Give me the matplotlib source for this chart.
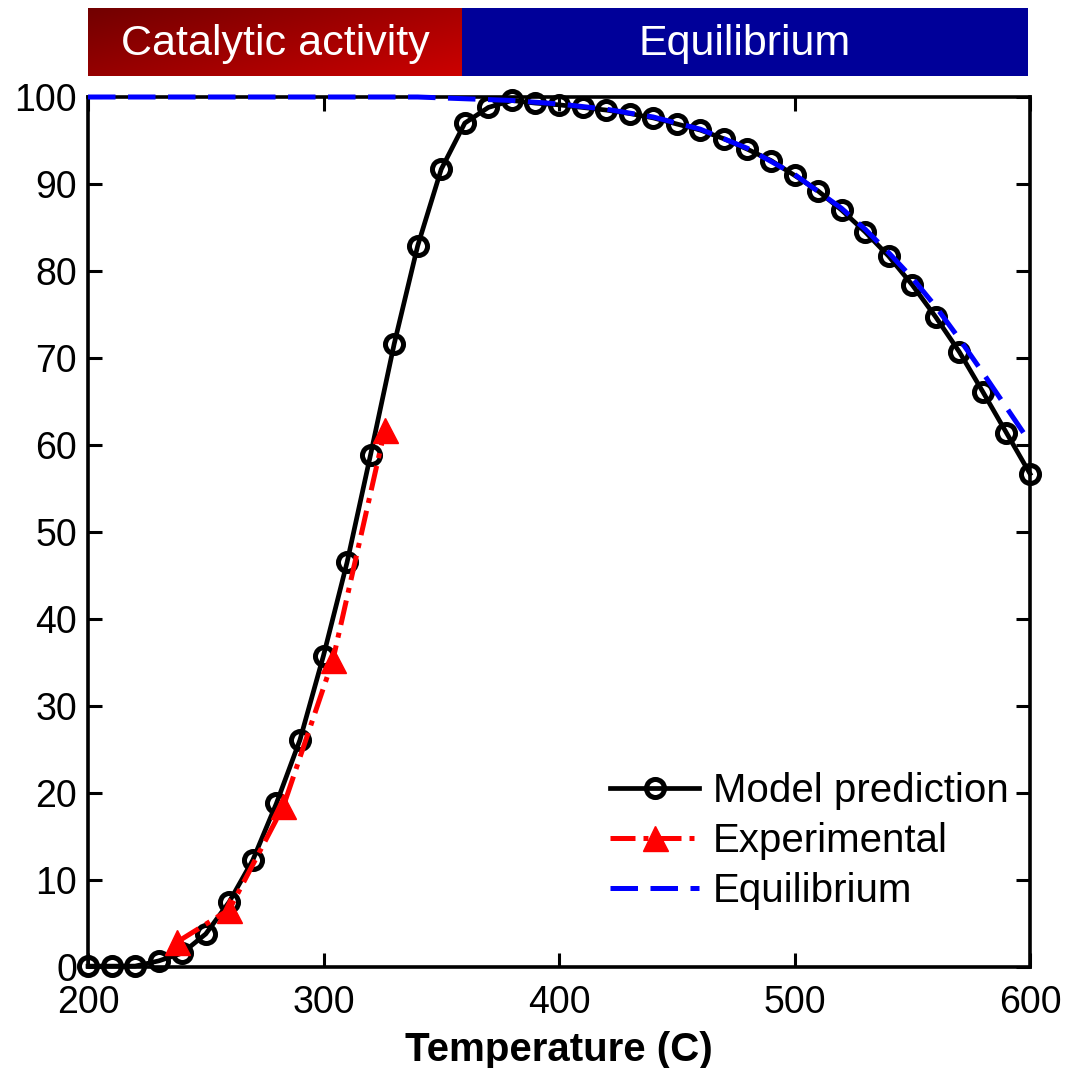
import matplotlib.pyplot as plt
import numpy as np
from matplotlib.colors import LinearSegmentedColormap

plt.rcParams['font.family'] = ['Liberation Sans', 'DejaVu Sans']

# 数据
temp_model = [200, 210, 220, 230, 240, 250, 260, 270, 280, 290,
              300, 310, 320, 330, 340, 350, 360, 370, 380, 390,
              400, 410, 420, 430, 440, 450, 460, 470, 480, 490,
              500, 510, 520, 530, 540, 550, 560, 570, 580, 590, 600]
conv_model = [0.1, 0.1, 0.1, 0.7, 1.6, 3.8, 7.5, 12.3, 18.8, 26.1,
              35.8, 46.5, 58.9, 71.6, 82.9, 91.7, 97.0, 98.8, 99.6, 99.3,
              99.1, 98.8, 98.5, 98.1, 97.6, 96.9, 96.2, 95.2, 94.0, 92.7,
              91.0, 89.2, 87.0, 84.5, 81.7, 78.4, 74.7, 70.7, 66.1, 61.4, 56.7]

temp_exp = [238, 260, 283, 304, 326]
conv_exp = [2.9, 6.6, 18.5, 35.3, 61.7]

temp_eq = [200, 250, 300, 340, 350, 360, 370, 380, 390, 400,
           420, 440, 460, 480, 500, 520, 530, 540, 550, 560,
           570, 580, 590, 600]
conv_eq = [100.0, 100.0, 100.0, 100.0, 99.9, 99.8, 99.7, 99.6, 99.4, 99.2,
           98.6, 97.7, 96.3, 94.1, 91.1, 87.2, 84.8, 82.1, 79.2, 75.9,
           72.2, 68.3, 64.3, 60.3]

banner_labels = ['Catalytic activity', 'Equilibrium']

fig = plt.figure(figsize=(10.66, 10.68), dpi=100)
ax = fig.add_axes([88 / 1066, 1 - 967 / 1068, 942 / 1066, 870 / 1068])

ax.plot(temp_model, conv_model, color='black', lw=3.4, marker='o',
        markersize=13, markerfacecolor='none', markeredgewidth=3.6,
        markeredgecolor='black', label='Model prediction', zorder=3,
        clip_on=False)
ax.plot(temp_exp, conv_exp, color='#ff0000', linestyle=(0, (5, 1.6, 1, 1.6)),
        lw=3.6, marker='^', markersize=18, markerfacecolor='#ff0000',
        markeredgecolor='#ff0000', label='Experimental', zorder=4)
ax.plot(temp_eq, conv_eq, color='#0000ff', linestyle=(0, (5.5, 2.5)), lw=3.6,
        label='Equilibrium', zorder=5, clip_on=False)

ax.set_xlim(200, 600)
ax.set_ylim(0, 100)
ax.set_xticks(np.arange(200, 601, 100))
ax.set_yticks(np.arange(0, 101, 10))
ax.tick_params(direction='in', length=10, width=2.2, labelsize=27,
               top=True, right=True, pad=8)
ax.tick_params(axis='x', pad=13)
for s in ax.spines.values():
    s.set_linewidth(2.6)
ax.set_xlabel('Temperature (C)', fontsize=29, fontweight='bold', labelpad=7)

ax.legend(loc='lower right', frameon=False, fontsize=29, handlelength=2.2,
          handletextpad=0.35, labelspacing=0.3, bbox_to_anchor=(1.016, 0.024))

# 顶部横幅
bx = fig.add_axes([88 / 1066, 1 - 76 / 1068, 374 / 1066, 68 / 1068])
g = np.linspace(0, 1, 256)
grad = g[None, :] * 0.6 + g[:, None] * 0.4
cmap = LinearSegmentedColormap.from_list('rd', ['#720000', '#cc0000'])
bx.imshow(grad, cmap=cmap, aspect='auto', extent=[0, 1, 0, 1], origin='upper')
bx.axis('off')
bx.text(0.5, 0.47, banner_labels[0], color='white', fontsize=31,
        ha='center', va='center', transform=bx.transAxes)

bx2 = fig.add_axes([462 / 1066, 1 - 76 / 1068, 566 / 1066, 68 / 1068])
bx2.set_facecolor('#000099')
bx2.set_xticks([])
bx2.set_yticks([])
for s in bx2.spines.values():
    s.set_visible(False)
bx2.text(0.5, 0.47, banner_labels[1], color='white', fontsize=31,
         ha='center', va='center', transform=bx2.transAxes)

fig.savefig('out.png', dpi=100)
